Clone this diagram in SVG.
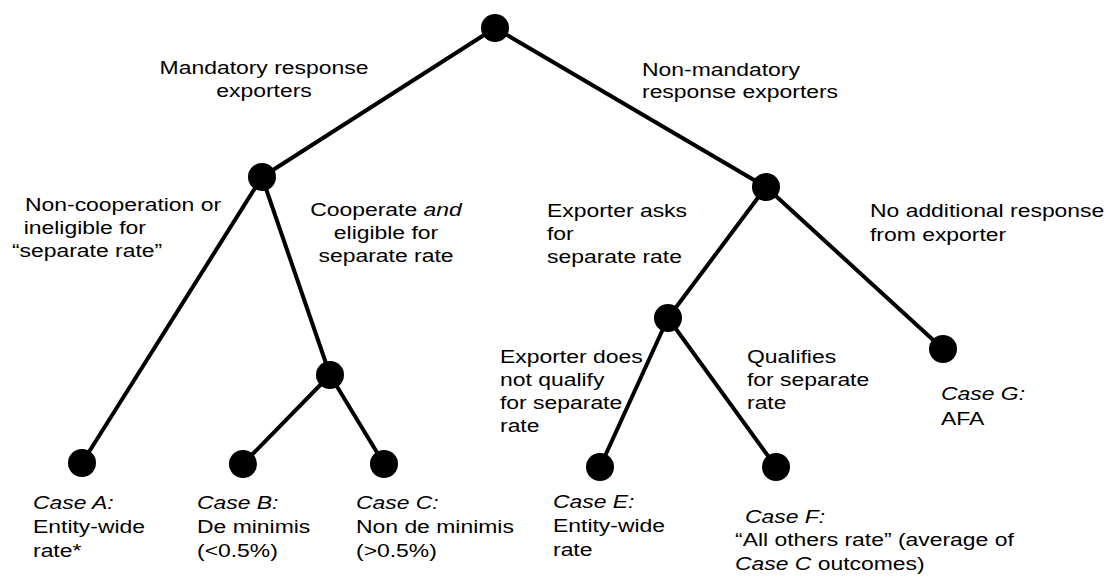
<svg xmlns="http://www.w3.org/2000/svg" width="1107" height="579" viewBox="0 0 1107 579">
<style>
.t { font-family: "Liberation Sans", Arial, Helvetica, sans-serif; font-size: 17.5px; fill: #000; }
.i { font-style: italic; }
.edge { stroke: #000; stroke-width: 4; stroke-linecap: round; fill: none; }
.node { fill: #000; }
</style>
<rect width="1107" height="579" fill="#fff"/>
<g id="connectors">
<line class="edge" x1="495" y1="28" x2="262" y2="177"/>
<line class="edge" x1="495" y1="28" x2="766" y2="187"/>
<line class="edge" x1="262" y1="177" x2="82" y2="463"/>
<line class="edge" x1="262" y1="177" x2="330" y2="375"/>
<line class="edge" x1="330" y1="375" x2="243" y2="464"/>
<line class="edge" x1="330" y1="375" x2="384" y2="464"/>
<line class="edge" x1="766" y1="187" x2="668" y2="318"/>
<line class="edge" x1="766" y1="187" x2="943" y2="349"/>
<line class="edge" x1="668" y1="318" x2="600" y2="467"/>
<line class="edge" x1="668" y1="318" x2="776" y2="467"/>
</g>
<g id="edge-labels">
<text class="t" text-anchor="middle" transform="matrix(1.31 0 0 1 264 74)"><tspan x="0" y="0">Mandatory response</tspan><tspan x="0" y="23">exporters</tspan></text>
<text class="t" transform="matrix(1.31 0 0 1 642 76)"><tspan x="0" y="0">Non-mandatory</tspan><tspan x="0" y="22">response exporters</tspan></text>
<text class="t" transform="matrix(1.31 0 0 1 25 211)"><tspan x="0" y="0">Non-cooperation or</tspan><tspan x="-1" y="23">ineligible for</tspan><tspan x="-10" y="46">“separate rate”</tspan></text>
<text class="t" text-anchor="middle" transform="matrix(1.31 0 0 1 386 216)"><tspan x="0" y="0">Cooperate <tspan class="i">and</tspan></tspan><tspan x="0" y="23">eligible for</tspan><tspan x="0" y="46">separate rate</tspan></text>
<text class="t" transform="matrix(1.31 0 0 1 547 217)"><tspan x="0" y="0">Exporter asks</tspan><tspan x="0" y="23">for</tspan><tspan x="0" y="46">separate rate</tspan></text>
<text class="t" transform="matrix(1.31 0 0 1 870 217)"><tspan x="0" y="0">No additional response</tspan><tspan x="0" y="24">from exporter</tspan></text>
<text class="t" transform="matrix(1.31 0 0 1 500 363)"><tspan x="0" y="0">Exporter does</tspan><tspan x="0" y="23">not qualify</tspan><tspan x="0" y="46">for separate</tspan><tspan x="0" y="69">rate</tspan></text>
<text class="t" transform="matrix(1.31 0 0 1 747 363)"><tspan x="0" y="0">Qualifies</tspan><tspan x="0" y="23">for separate</tspan><tspan x="0" y="46">rate</tspan></text>
</g>
<g id="node-root"><circle class="node" cx="495" cy="28" r="14"/></g>
<g id="node-mandatory"><circle class="node" cx="262" cy="177" r="14"/></g>
<g id="node-nonmandatory"><circle class="node" cx="766" cy="187" r="14"/></g>
<g id="node-cooperate"><circle class="node" cx="330" cy="375" r="14"/></g>
<g id="node-asks"><circle class="node" cx="668" cy="318" r="14"/></g>
<g id="node-caseA"><circle class="node" cx="82" cy="463" r="14"/>
<text class="t" transform="matrix(1.31 0 0 1 33 509)"><tspan x="0" y="0" class="i">Case A:</tspan><tspan x="0" y="24">Entity-wide</tspan><tspan x="0" y="48">rate*</tspan></text></g>
<g id="node-caseB"><circle class="node" cx="243" cy="464" r="14"/>
<text class="t" transform="matrix(1.31 0 0 1 197 509)"><tspan x="0" y="0" class="i">Case B:</tspan><tspan x="0" y="24">De minimis</tspan><tspan x="0" y="48">(&lt;0.5%)</tspan></text></g>
<g id="node-caseC"><circle class="node" cx="384" cy="464" r="14"/>
<text class="t" transform="matrix(1.31 0 0 1 356 509)"><tspan x="0" y="0" class="i">Case C:</tspan><tspan x="0" y="24">Non de minimis</tspan><tspan x="0" y="48">(&gt;0.5%)</tspan></text></g>
<g id="node-caseE"><circle class="node" cx="600" cy="467" r="14"/>
<text class="t" transform="matrix(1.31 0 0 1 553 508)"><tspan x="0" y="0" class="i">Case E:</tspan><tspan x="0" y="24">Entity-wide</tspan><tspan x="0" y="48">rate</tspan></text></g>
<g id="node-caseF"><circle class="node" cx="776" cy="467" r="14"/>
<text class="t" transform="matrix(1.31 0 0 1 735 523)"><tspan x="7.6" y="0" class="i">Case F:</tspan><tspan x="0" y="23">“All others rate” (average of</tspan><tspan x="0" y="47"><tspan class="i">Case C</tspan> outcomes)</tspan></text></g>
<g id="node-caseG"><circle class="node" cx="943" cy="349" r="14"/>
<text class="t" transform="matrix(1.31 0 0 1 941 400)"><tspan x="0" y="0" class="i">Case G:</tspan><tspan x="0" y="25">AFA</tspan></text></g>
</svg>
